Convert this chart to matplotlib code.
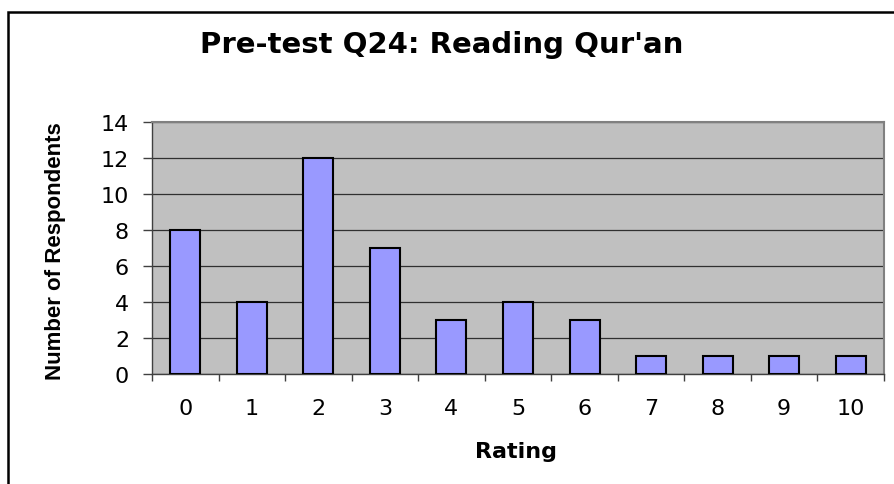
import matplotlib
matplotlib.use("Agg")
import matplotlib.pyplot as plt
from matplotlib.patches import Rectangle
import numpy as np

categories = ["0", "1", "2", "3", "4", "5", "6", "7", "8", "9", "10"]
counts = [8, 4, 12, 7, 3, 4, 3, 1, 1, 1, 1]
yticks = [0, 2, 4, 6, 8, 10, 12, 14]

W, H = 895, 485
fig = plt.figure(figsize=(W / 100, H / 100), dpi=100)
fig.patch.set_facecolor("white")

# outer chart frame (extends past right/bottom edges)
fig.patches.append(Rectangle((8 / W, -10 / H), 1.2, (H - 13 + 10) / H,
                             transform=fig.transFigure, fill=False,
                             edgecolor="black", linewidth=1.8, zorder=0))

left, right, top, bottom = 152, 884, 123, 375
ax = fig.add_axes([left / W, 1 - bottom / H, (right - left) / W, (bottom - top) / H])
ax.set_facecolor("#C0C0C0")

x = np.arange(len(categories))
ax.bar(x, counts, width=0.45, color="#9999FF", edgecolor="black", linewidth=1.5, zorder=3)

ax.set_xlim(-0.5, len(categories) - 0.5)
ax.set_ylim(0, 14)
ax.set_yticks(yticks)
ax.yaxis.grid(True, color="#303030", linewidth=0.9, zorder=1)
ax.set_axisbelow(True)

ax.set_xticks(x)
ax.set_xticklabels(categories)
ax.set_xticks(np.arange(-0.5, len(categories)), minor=True)
ax.tick_params(axis="x", which="major", length=0, pad=17, labelsize=16)
ax.tick_params(axis="x", which="minor", length=5, width=1, color="#404040", direction="out")
ax.tick_params(axis="y", length=6.5, width=1, color="#404040", direction="out", pad=10, labelsize=16)

for s in ["top", "right"]:
    ax.spines[s].set_color("#808080")
    ax.spines[s].set_linewidth(1.5)
for s in ["left", "bottom"]:
    ax.spines[s].set_color("#404040")
    ax.spines[s].set_linewidth(1.0)

font = "DejaVu Sans"
for lab in ax.get_xticklabels() + ax.get_yticklabels():
    lab.set_family(font)

fig.text(442 / W, 1 - 45 / H, "Pre-test Q24: Reading Qur'an", ha="center", va="center",
         fontsize=21, fontweight="bold", family=font)
fig.text(516 / W, 1 - 452 / H, "Rating", ha="center", va="center",
         fontsize=16, fontweight="bold", family=font)
fig.text(56 / W, 1 - 251 / H, "Number of Respondents", ha="center", va="center",
         rotation=90, fontsize=16, fontweight="bold", family="Liberation Sans")

fig.savefig("out.png", dpi=100)
